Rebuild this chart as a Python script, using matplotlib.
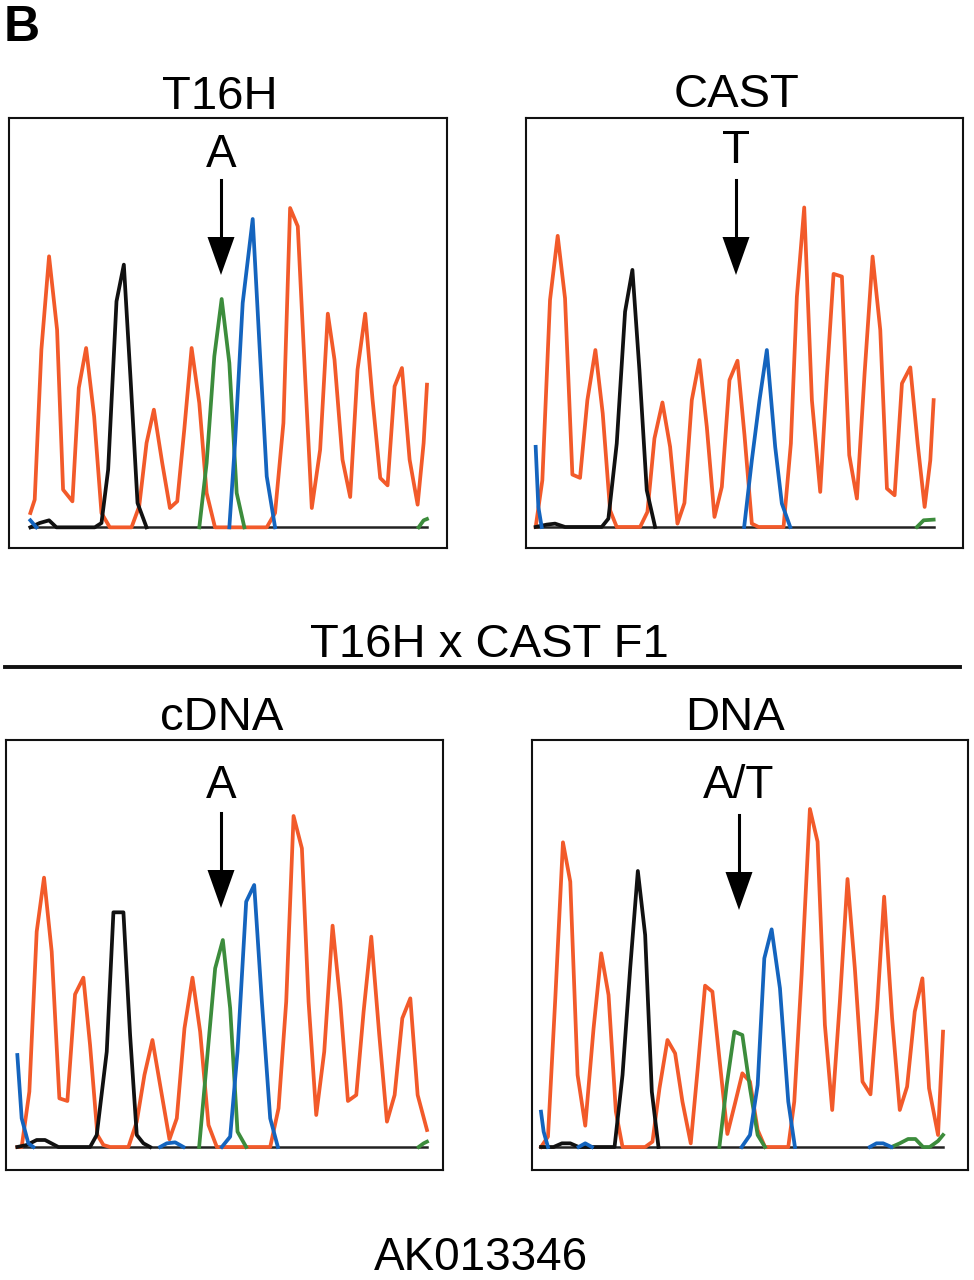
import numpy as np
import matplotlib
matplotlib.use("Agg")
import matplotlib.pyplot as plt
from matplotlib.patches import Polygon

plt.rcParams['font.family'] = ['Liberation Sans', 'DejaVu Sans']

W, H = 974, 1280

RED = "#f25a2a"
BLUE = "#1464be"
GREEN = "#3c8c3c"
BLACK = "#111111"

# ---- trace data: scan position / signal height ----
# panel 1: T16H
t16h_red_x = [92, 105, 125, 148, 172, 190, 218, 237, 259, 283, 305, 330, 395, 418, 440, 462, 487, 510, 532, 553,
              575, 598, 620, 645, 800, 825, 850, 870, 893, 915, 935, 960, 983, 1003, 1027, 1050, 1072, 1095, 1117,
              1140, 1162, 1183, 1205, 1228, 1252, 1270, 1280]
t16h_red_y = [43, 83, 533, 813, 593, 113, 78, 418, 538, 333, 43, 0, 0, 63, 253, 353, 193, 58, 78, 293,
              538, 373, 103, 0, 0, 43, 313, 958, 903, 453, 58, 233, 641, 503, 203, 91, 473, 641, 383,
              148, 126, 423, 478, 203, 68, 253, 428]
t16h_black_x = [92, 120, 148, 170, 285, 305, 325, 350, 372, 393, 413, 440]
t16h_black_y = [0, 13, 21, 0, 0, 13, 173, 678, 788, 430, 73, 0]
t16h_green_x = [598, 620, 643, 665, 688, 710, 733, None, 1255, 1270, 1280]
t16h_green_y = [0, 193, 513, 685, 493, 103, 0, None, 0, 21, 25]
t16h_blue_x = [92, 110, None, 688, 705, 728, 758, 778, 800, 825]
t16h_blue_y = [21, 0, None, 0, 253, 673, 925, 553, 153, 0]

# panel 2: CAST
cast_red_x = [47, 67, 90, 113, 135, 157, 180, 202, 226, 248, 270, 290, 360, 382, 403, 427, 450, 472, 493, 515,
              538, 560, 583, 605, 628, 652, 673, 695, 715, 790, 812, 830, 852, 875, 900, 920, 940, 965, 987,
              1010, 1033, 1057, 1080, 1100, 1123, 1145, 1170, 1192, 1213, 1230, 1240]
cast_red_y = [0, 140, 680, 872, 685, 157, 147, 380, 530, 340, 50, 0, 0, 45, 265, 373, 240, 10, 72, 380,
              500, 300, 30, 120, 440, 498, 275, 10, 0, 0, 250, 690, 957, 380, 105, 450, 758, 750, 215,
              85, 460, 810, 590, 115, 95, 430, 478, 250, 60, 200, 380]
cast_black_x = [47, 80, 105, 135, 245, 265, 290, 315, 337, 358, 380, 405]
cast_black_y = [0, 7, 10, 0, 0, 25, 250, 645, 770, 470, 110, 0]
cast_blue_x = [47, 55, 65, None, 672, 695, 718, 740, 765, 785, 810]
cast_blue_y = [240, 60, 0, None, 0, 200, 380, 530, 240, 70, 0]
cast_green_x = [1190, 1210, 1240]
cast_green_y = [0, 20, 22]

# panel 3: F1 cDNA
cdna_red_x = [52, 65, 88, 110, 132, 155, 178, 202, 225, 250, 270, 292, 310, 330, 385, 410, 433, 457, 480, 508,
              530, 553, 577, 600, 625, 650, 810, 835, 858, 880, 905, 925, 948, 972, 997, 1020, 1043, 1068,
              1090, 1113, 1137, 1160, 1183, 1206, 1230, 1252, 1280]
cdna_red_y = [0, 0, 166, 646, 808, 586, 146, 138, 458, 508, 306, 36, 6, 0, 0, 76, 216, 321, 186, 23,
              86, 356, 508, 346, 66, 0, 0, 116, 436, 993, 896, 436, 96, 286, 664, 436, 138, 156,
              406, 631, 336, 76, 156, 386, 446, 156, 51]
cdna_black_x = [52, 80, 110, 135, 175, 270, 290, 320, 340, 370, 390, 410, 430, 450]
cdna_black_y = [0, 6, 21, 21, 0, 0, 36, 286, 704, 704, 336, 36, 11, 0]
cdna_blue_x = [52, 65, 85, 100, None, 480, 500, 525, 550, None, 665, 690, 712, 738, 762, 785, 810, 833]
cdna_blue_y = [276, 86, 11, 0, None, 0, 11, 14, 0, None, 0, 31, 286, 736, 786, 436, 86, 0]
cdna_green_x = [597, 620, 645, 668, 690, 712, 738, None, 1255, 1270, 1280]
cdna_green_y = [0, 256, 536, 621, 416, 46, 0, None, 0, 11, 16]

# panel 4: F1 genomic DNA
dna_red_x = [47, 68, 90, 113, 135, 157, 180, 205, 228, 250, 272, 292, 360, 382, 403, 427, 450, 472, 497, 518,
             540, 562, 583, 607, 630, 652, 675, 698, 720, 790, 808, 830, 855, 878, 900, 922, 945, 968, 990,
             1013, 1037, 1057, 1078, 1102, 1125, 1147, 1170, 1193, 1213, 1240, 1255]
dna_red_y = [0, 31, 446, 914, 796, 216, 64, 356, 581, 456, 106, 0, 0, 16, 176, 321, 281, 136, 11, 236,
             484, 466, 266, 39, 131, 221, 196, 51, 0, 0, 136, 516, 1014, 916, 366, 111, 436, 804, 536,
             196, 158, 416, 751, 386, 111, 181, 406, 506, 176, 36, 346]
dna_black_x = [47, 85, 110, 135, 160, 268, 292, 315, 338, 360, 380, 400]
dna_black_y = [0, 0, 11, 11, 0, 0, 216, 536, 828, 636, 166, 0]
dna_blue_x = [47, 55, 68, None, 160, 180, 200, None, 650, 675, 698, 718, 740, 765, 790, 810,
              None, 1035, 1055, 1075, 1100]
dna_blue_y = [106, 46, 0, None, 0, 11, 0, None, 0, 36, 186, 566, 653, 476, 136, 0,
              None, 0, 11, 11, 0]
dna_green_x = [583, 605, 628, 652, 675, 698, 720, None, 1100, 1125, 1150, 1172, 1195, 1215, 1240, 1255]
dna_green_y = [0, 186, 346, 336, 176, 36, 0, None, 0, 11, 24, 24, 0, 0, 18, 36]


def seg(v):
    return np.array([np.nan if a is None else a for a in v], dtype=float)


def px_axes(fig, x0, y0, x1, y1):
    return fig.add_axes([x0 / W, 1 - y1 / H, (x1 - x0) / W, (y1 - y0) / H])


fig = plt.figure(figsize=(W / 100, H / 100), dpi=100)

panels = [
    # box in pixels, x-limits, y-limits, baseline span, traces
    dict(box=(9, 118, 447, 548), xlim=(28, 1340), ylim=(-62, 1228), base=(92, 1280),
         traces=[(t16h_red_x, t16h_red_y, RED), (t16h_black_x, t16h_black_y, BLACK),
                 (t16h_green_x, t16h_green_y, GREEN), (t16h_blue_x, t16h_blue_y, BLUE)]),
    dict(box=(526, 118, 963, 548), xlim=(18, 1328), ylim=(-63, 1225), base=(47, 1240),
         traces=[(cast_red_x, cast_red_y, RED), (cast_black_x, cast_black_y, BLACK),
                 (cast_blue_x, cast_blue_y, BLUE), (cast_green_x, cast_green_y, GREEN)]),
    dict(box=(6, 740, 443, 1170), xlim=(18, 1328), ylim=(-69, 1221), base=(52, 1280),
         traces=[(cdna_red_x, cdna_red_y, RED), (cdna_black_x, cdna_black_y, BLACK),
                 (cdna_green_x, cdna_green_y, GREEN), (cdna_blue_x, cdna_blue_y, BLUE)]),
    dict(box=(532, 740, 968, 1170), xlim=(20, 1330), ylim=(-69, 1221), base=(47, 1255),
         traces=[(dna_red_x, dna_red_y, RED), (dna_black_x, dna_black_y, BLACK),
                 (dna_green_x, dna_green_y, GREEN), (dna_blue_x, dna_blue_y, BLUE)]),
]

for p in panels:
    ax = px_axes(fig, *p["box"])
    ax.set_xlim(*p["xlim"])
    ax.set_ylim(*p["ylim"])
    ax.set_xticks([])
    ax.set_yticks([])
    for s in ax.spines.values():
        s.set_linewidth(1.5)
        s.set_color("#111111")
    ax.plot(p["base"], [0, 0], color="#222222", lw=1.8, zorder=1)
    for xs, ys, c in p["traces"]:
        ax.plot(seg(xs), seg(ys), color=c, lw=2.7, zorder=2)

# overlay for labels, arrows and the divider line
ov = fig.add_axes([0, 0, 1, 1])
ov.set_xlim(0, W)
ov.set_ylim(H, 0)
ov.axis("off")

ov.text(4, 41, "B", fontsize=36, fontweight="bold", ha="left", va="baseline")
ov.text(220, 109, "T16H", fontsize=34, ha="center", va="baseline")
ov.text(737, 107, "CAST", fontsize=34, ha="center", va="baseline")
ov.text(489, 657, "T16H x CAST F1", fontsize=34, ha="center", va="baseline")
ov.plot([5, 960], [667, 667], color="#111111", lw=2.8)
ov.text(222, 730, "cDNA", fontsize=34, ha="center", va="baseline")
ov.text(735, 730, "DNA", fontsize=34, ha="center", va="baseline")
ov.text(481, 1270, "AK013346", fontsize=33, ha="center", va="baseline")

# base calls with arrows: x, label baseline, arrow top, head start, head tip
calls = [
    (221, 167, "A", 180, 237, 275),
    (736, 163, "T", 180, 237, 275),
    (221, 798, "A", 813, 870, 908),
    (739, 798, "A/T", 815, 872, 910),
]
for x, ty, lab, a0, a1, a2 in calls:
    ov.text(x, ty, lab, fontsize=33, ha="center", va="baseline")
    ov.plot([x, x], [a0, a1 + 2], color="black", lw=2.2)
    ov.add_patch(Polygon([[x - 13.5, a1], [x + 13.5, a1], [x, a2]], closed=True,
                         color="black", lw=0))

fig.savefig("out.png", dpi=100)
